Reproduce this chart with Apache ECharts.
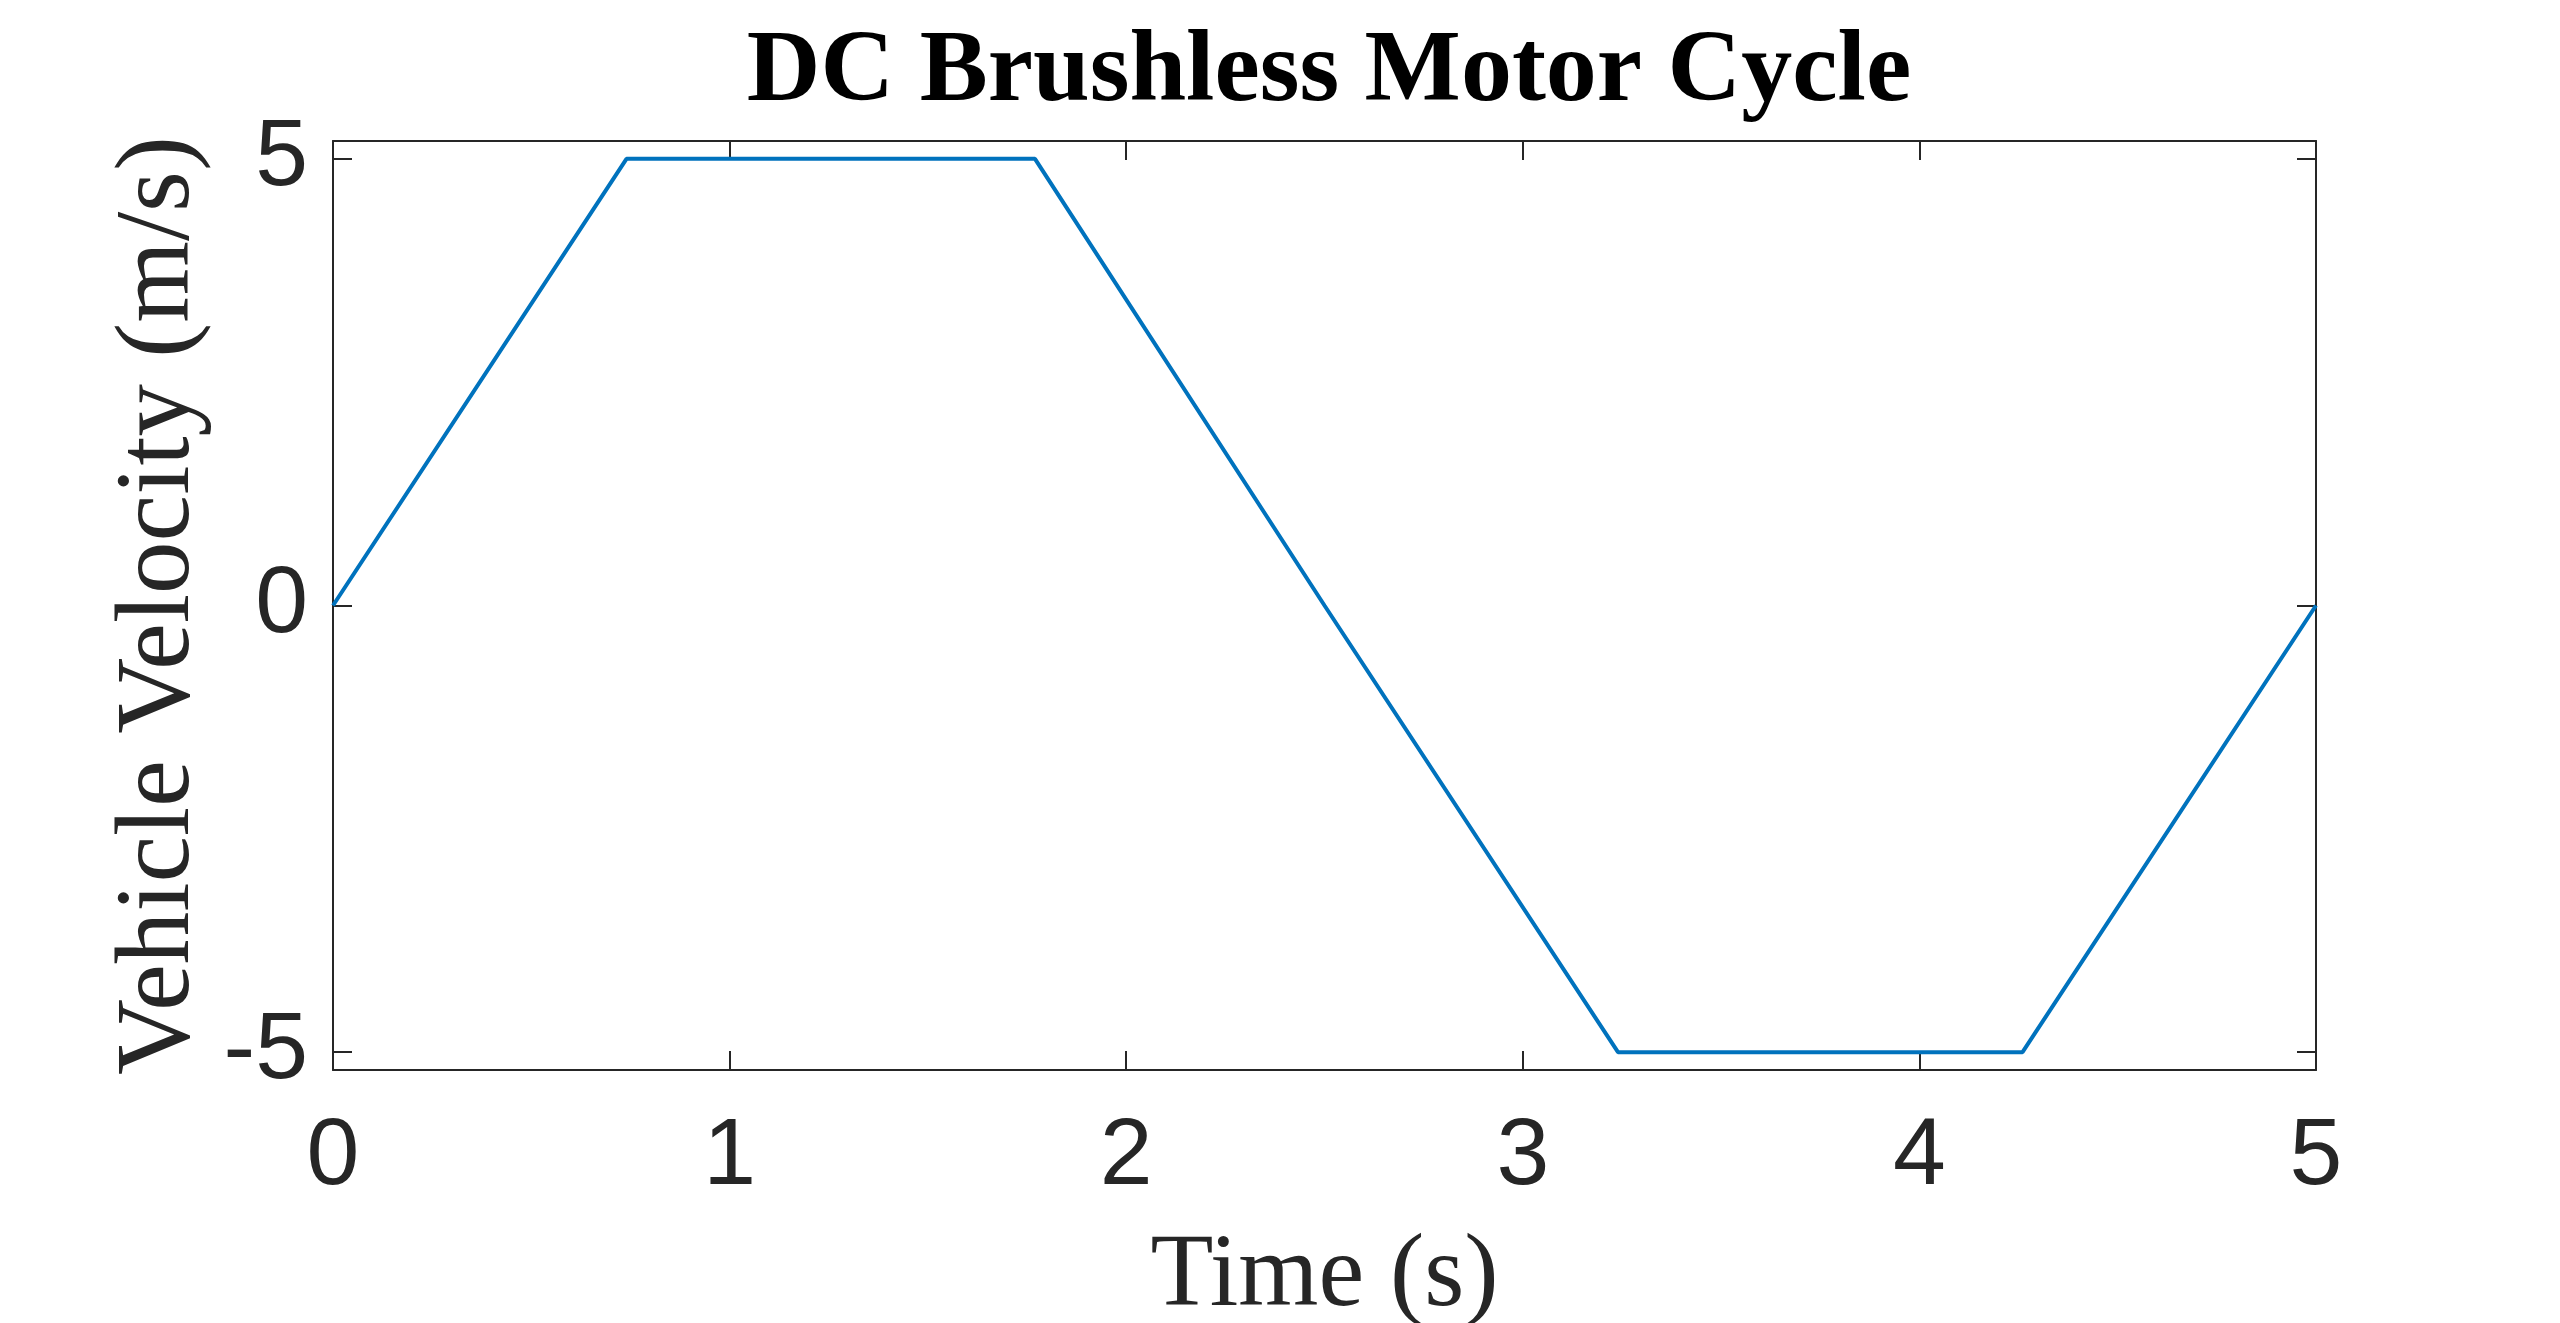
<!DOCTYPE html>
<html>
<head>
<meta charset="utf-8">
<script src="https://cdn.jsdelivr.net/npm/echarts@6/dist/echarts.min.js"></script>
<style>
html,body{margin:0;padding:0;background:#fff;}
#chart{width:2560px;height:1323px;}
</style>
</head>
<body>
<div id="chart"></div>
<script>
const timeValues = [0, 0.74, 1.77, 2.5, 3.24, 4.26, 5];
const velocityValues = [0, 5, 5, 0, -5, -5, 0];
const xTicks = [0, 1, 2, 3, 4, 5];
const yTicks = [-5, 0, 5];
const titleText = 'DC Brushless Motor Cycle';
const xLabel = 'Time (s)';
const yLabel = 'Vehicle Velocity (m/s)';

const seriesData = timeValues.map((t, i) => [t, velocityValues[i]]);
const axisColor = '#262626';

const chart = echarts.init(document.getElementById('chart'), null, {renderer: 'canvas'});
chart.setOption({
  backgroundColor: '#ffffff',
  animation: false,
  title: {
    text: titleText,
    left: 1324,
    top: 18,
    textAlign: 'center',
    textStyle: {fontFamily: 'Liberation Serif', fontWeight: 'bold', fontSize: 102, color: '#000'}
  },
  grid: {left: 333, right: 244, top: 141, bottom: 253, containLabel: false, outerBoundsMode: 'none'},
  xAxis: [{
    type: 'value', min: 0, max: 5, interval: 1, position: 'bottom',
    name: xLabel, nameLocation: 'middle', nameGap: 156,
    nameTextStyle: {fontFamily: 'Liberation Serif', fontSize: 103, color: axisColor},
    axisLine: {show: true, onZero: false, lineStyle: {color: axisColor, width: 2}},
    axisTick: {show: true, inside: true, length: 19, lineStyle: {color: axisColor, width: 2}},
    axisLabel: {show: true, margin: 40, fontFamily: 'Liberation Sans', fontSize: 95, color: axisColor,
      customValues: xTicks},
    splitLine: {show: false}
  }, {
    type: 'value', min: 0, max: 5, interval: 1, position: 'top',
    axisLine: {show: true, onZero: false, lineStyle: {color: axisColor, width: 2}},
    axisTick: {show: true, inside: true, length: 19, lineStyle: {color: axisColor, width: 2}},
    axisLabel: {show: false},
    splitLine: {show: false}
  }],
  yAxis: [{
    type: 'value', min: -5.2, max: 5.2, position: 'left',
    name: yLabel, nameLocation: 'middle', nameGap: 118,
    nameTextStyle: {fontFamily: 'Liberation Serif', fontSize: 105, color: axisColor},
    axisLine: {show: true, onZero: false, lineStyle: {color: axisColor, width: 2}},
    axisTick: {show: true, inside: true, length: 19, lineStyle: {color: axisColor, width: 2}, customValues: yTicks},
    axisLabel: {show: true, margin: 25, fontFamily: 'Liberation Sans', fontSize: 95, color: axisColor,
      customValues: yTicks},
    splitLine: {show: false}
  }, {
    type: 'value', min: -5.2, max: 5.2, position: 'right',
    axisLine: {show: true, onZero: false, lineStyle: {color: axisColor, width: 2}},
    axisTick: {show: true, inside: true, length: 19, lineStyle: {color: axisColor, width: 2}, customValues: yTicks},
    axisLabel: {show: false},
    splitLine: {show: false}
  }],
  series: [{
    type: 'line',
    data: seriesData,
    xAxisIndex: 0,
    yAxisIndex: 0,
    showSymbol: false,
    symbol: 'none',
    lineStyle: {color: '#0072BD', width: 4},
    itemStyle: {color: '#0072BD'}
  }]
});
</script>
</body>
</html>
